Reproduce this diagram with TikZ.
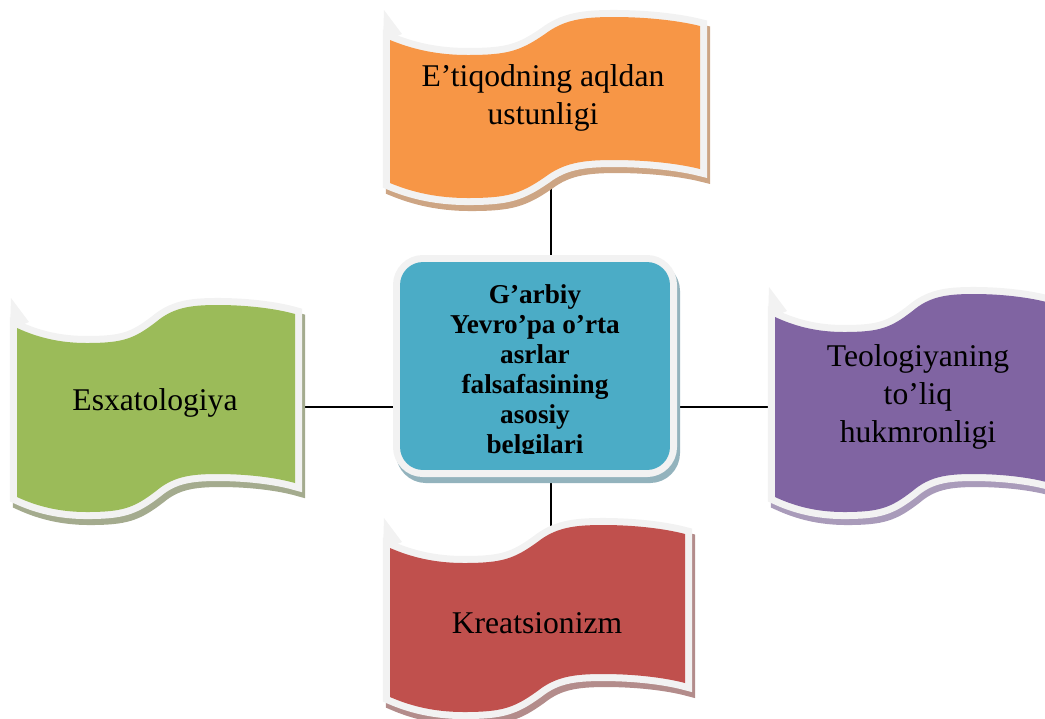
\documentclass[tikz,border=0pt]{standalone}
\usepackage{fontspec}
\setmainfont{Liberation Serif}
\usetikzlibrary{backgrounds}
\definecolor{aqua}{HTML}{4BACC6}
\definecolor{tangerine}{HTML}{F79646}
\definecolor{olive}{HTML}{9BBB59}
\definecolor{violet}{HTML}{8064A2}
\definecolor{brick}{HTML}{C0504D}
\definecolor{rimgray}{HTML}{F2F2F2}
\definecolor{aquashade}{HTML}{93B3BD}
\definecolor{tangerineshade}{HTML}{CDA584}
\definecolor{oliveshade}{HTML}{A4AB8E}
\definecolor{violetshade}{HTML}{A99BBA}
\definecolor{brickshade}{HTML}{B38C8B}

\begin{document}
\begin{tikzpicture}[x=0.02cm, y=-0.02cm,
	castshadow/.style={preaction={draw=#1, fill=#1, line width=8pt, transform canvas={xshift=0.06cm, yshift=-0.12cm}}},
	rim/.style={preaction={draw=rimgray, line width=8pt}},
	flagtext/.style={align=center, font=\fontsize{18}{21.6}\selectfont},
	coretext/.style={align=center, font=\bfseries\fontsize{15.5}{17.07}\selectfont},
	spoke/.style={line width=1pt},
	pics/banner/.style n args={4}{code={
	    \fill[rimgray] (-7,2) -- (-6,-30) -- (12,-6) -- cycle;
	    \path[castshadow=#4, rim, fill=#3] (0,0)
	        .. controls ({0.07*#1},9) and ({0.15*#1},15) .. ({0.25*#1},15)
	        .. controls ({0.38*#1},15) and ({0.42*#1},11) .. ({0.5*#1},-6)
	        .. controls ({0.56*#1},-20) and ({0.62*#1},-23) .. ({0.72*#1},-23)
	        .. controls ({0.85*#1},-23) and ({0.95*#1},-18) .. (#1,-14)
	        -- (#1,{#2-14})
	        .. controls ({0.95*#1},{#2-18}) and ({0.85*#1},{#2-23}) .. ({0.72*#1},{#2-23})
	        .. controls ({0.62*#1},{#2-23}) and ({0.56*#1},{#2-20}) .. ({0.5*#1},{#2-6})
	        .. controls ({0.42*#1},{#2+11}) and ({0.38*#1},{#2+15}) .. ({0.25*#1},{#2+15})
	        .. controls ({0.15*#1},{#2+15}) and ({0.07*#1},{#2+9}) .. (0,#2) -- cycle;
	    }}]

    \useasboundingbox (0,0) rectangle (1045,718);

    \node[castshadow=aquashade, rim, fill=aqua, rounded corners=0.46cm,
	    minimum width=5.4cm, minimum height=4.16cm] (core) at (535,366) {};

    \coordinate (etiq-foot) at (551,178);
    \coordinate (esx-side) at (300,407);
    \coordinate (teo-side) at (775,407);
    \coordinate (kre-top) at (551,535);

    \begin{scope}[on background layer]
	\draw[spoke] (etiq-foot) -- (etiq-foot |- core.north);
	\draw[spoke] (esx-side) -- (core.west |- esx-side);
	\draw[spoke] (core.east |- teo-side) -- (teo-side);
	\draw[spoke] (core.south -| kre-top) -- (kre-top);
    \end{scope}

    \pic at (390,40) {banner={310}{143}{tangerine}{tangerineshade}};
    \pic at (17,328) {banner={278}{169}{olive}{oliveshade}};
    \pic at (775,317) {banner={275}{180}{violet}{violetshade}};
    \pic at (390,548) {banner={295}{149}{brick}{brickshade}};

    \node[flagtext] (etiq) at (543,98) {E’tiqodning aqldan\\ustunligi};
    \node[flagtext] (esx) at (155,403) {Esxatologiya};
    \node[flagtext] (teo) at (918,397) {Teologiyaning\\to’liq\\hukmronligi};
    \node[flagtext] (kre) at (537,623) {Kreatsionizm};

    \begin{scope}
	\clip (core.west |- 0,453) rectangle (core.north east);
	\node[coretext] (title) at (535,372) {G’arbiy\\Yevro’pa o’rta\\asrlar\\falsafasining\\asosiy\\belgilari};
    \end{scope}
\end{tikzpicture}
\end{document}
